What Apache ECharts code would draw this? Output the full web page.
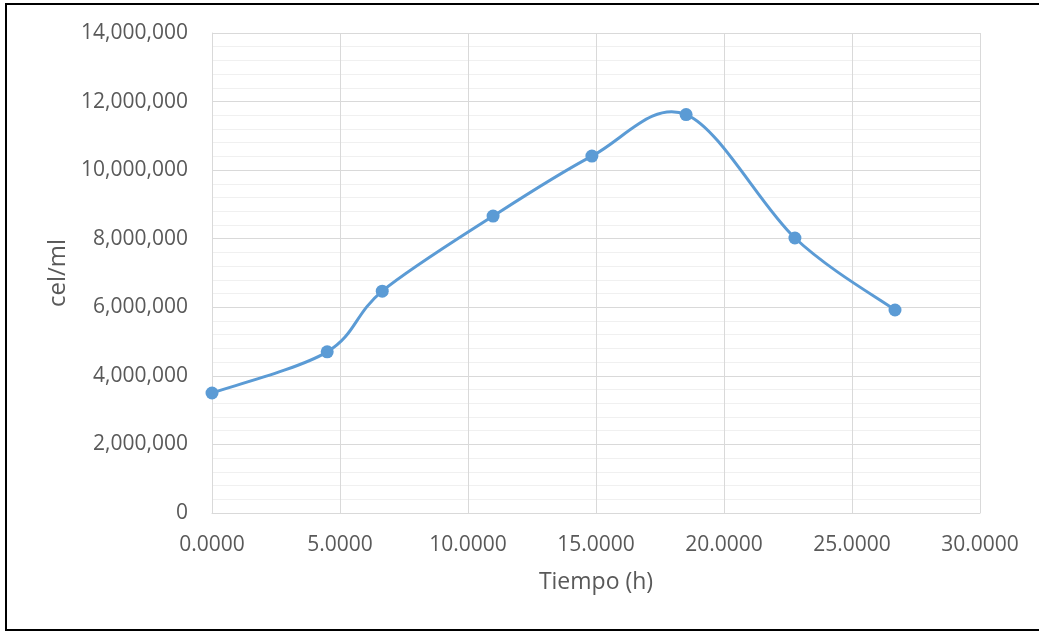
<!DOCTYPE html>
<html>
<head>
<meta charset="utf-8">
<script src="https://cdn.jsdelivr.net/npm/echarts@6/dist/echarts.min.js"></script>
<style>
html,body{margin:0;padding:0;background:#fff;}
#c{width:1039px;height:632px;}
</style>
</head>
<body>
<div id="c"></div>
<script>
const tiempo = [0, 4.5, 6.65, 10.98, 14.84, 18.52, 22.77, 26.68];
const celulas = [3500000, 4700000, 6470000, 8660000, 10410000, 11620000, 8020000, 5920000];
const xName = 'Tiempo (h)';
const yName = 'cel/ml';

const points = tiempo.map((t, i) => [t, celulas[i]]);
const chart = echarts.init(document.getElementById('c'));
const txt = '#595959';
const font = "'Open Sans', sans-serif";
const blue = '#5b9bd5';

// Smooth curve (Catmull-Rom style Bezier, like a spreadsheet's smoothed line)
function renderCurve(params, api) {
  if (params.dataIndex !== 0) return null;
  const p = points.map(d => api.coord(d));
  const n = p.length;
  let d = 'M' + p[0][0] + ' ' + p[0][1];
  for (let i = 0; i < n - 1; i++) {
    const p0 = p[Math.max(i - 1, 0)], p1 = p[i], p2 = p[i + 1], p3 = p[Math.min(i + 2, n - 1)];
    const c1x = p1[0] + (p2[0] - p0[0]) / 6, c1y = p1[1] + (p2[1] - p0[1]) / 6;
    const c2x = p2[0] - (p3[0] - p1[0]) / 6, c2y = p2[1] - (p3[1] - p1[1]) / 6;
    d += ' C' + c1x + ' ' + c1y + ' ' + c2x + ' ' + c2y + ' ' + p2[0] + ' ' + p2[1];
  }
  return {
    type: 'path',
    shape: {pathData: d},
    style: {stroke: blue, lineWidth: 3, fill: null, lineCap: 'round', lineJoin: 'round'}
  };
}

chart.setOption({
  animation: false,
  backgroundColor: '#fff',
  grid: {left: 212, right: 59, top: 33, bottom: 119},
  xAxis: {
    type: 'value', min: 0, max: 30, interval: 5,
    name: xName, nameLocation: 'middle', nameGap: 58,
    nameTextStyle: {color: txt, fontSize: 23, fontFamily: font},
    axisLine: {show: true, lineStyle: {color: '#d9d9d9', width: 1}},
    axisTick: {show: false},
    axisLabel: {color: txt, fontSize: 21, fontFamily: font, margin: 22,
      formatter: v => v.toFixed(4)},
    splitLine: {show: true, lineStyle: {color: '#d9d9d9', width: 1}}
  },
  yAxis: {
    type: 'value', min: 0, max: 14000000, interval: 2000000,
    name: yName, nameLocation: 'middle', nameGap: 142, nameRotate: 90,
    nameTextStyle: {color: txt, fontSize: 24, fontFamily: font},
    axisLine: {show: true, lineStyle: {color: '#d9d9d9', width: 1}},
    axisTick: {show: false},
    axisLabel: {color: txt, fontSize: 21, fontFamily: font, margin: 24,
      formatter: v => v.toLocaleString('en-US')},
    splitLine: {show: true, lineStyle: {color: '#d9d9d9', width: 1}},
    minorTick: {show: false, splitNumber: 5},
    minorSplitLine: {show: true, lineStyle: {color: '#f0f0f0', width: 1}}
  },
  series: [{
    type: 'custom',
    renderItem: renderCurve,
    data: points,
    encode: {x: 0, y: 1},
    silent: true,
    z: 2
  }, {
    type: 'scatter',
    data: points,
    symbol: 'circle', symbolSize: 13,
    itemStyle: {color: blue, opacity: 1},
    z: 3
  }],
  graphic: [
    {type: 'line', shape: {x1: 6, y1: 4, x2: 1039, y2: 4}, style: {stroke: '#000', lineWidth: 2}},
    {type: 'line', shape: {x1: 6, y1: 3, x2: 6, y2: 630}, style: {stroke: '#000', lineWidth: 2}},
    {type: 'line', shape: {x1: 5, y1: 630, x2: 1039, y2: 630}, style: {stroke: '#000', lineWidth: 2}}
  ]
});
</script>
</body>
</html>
